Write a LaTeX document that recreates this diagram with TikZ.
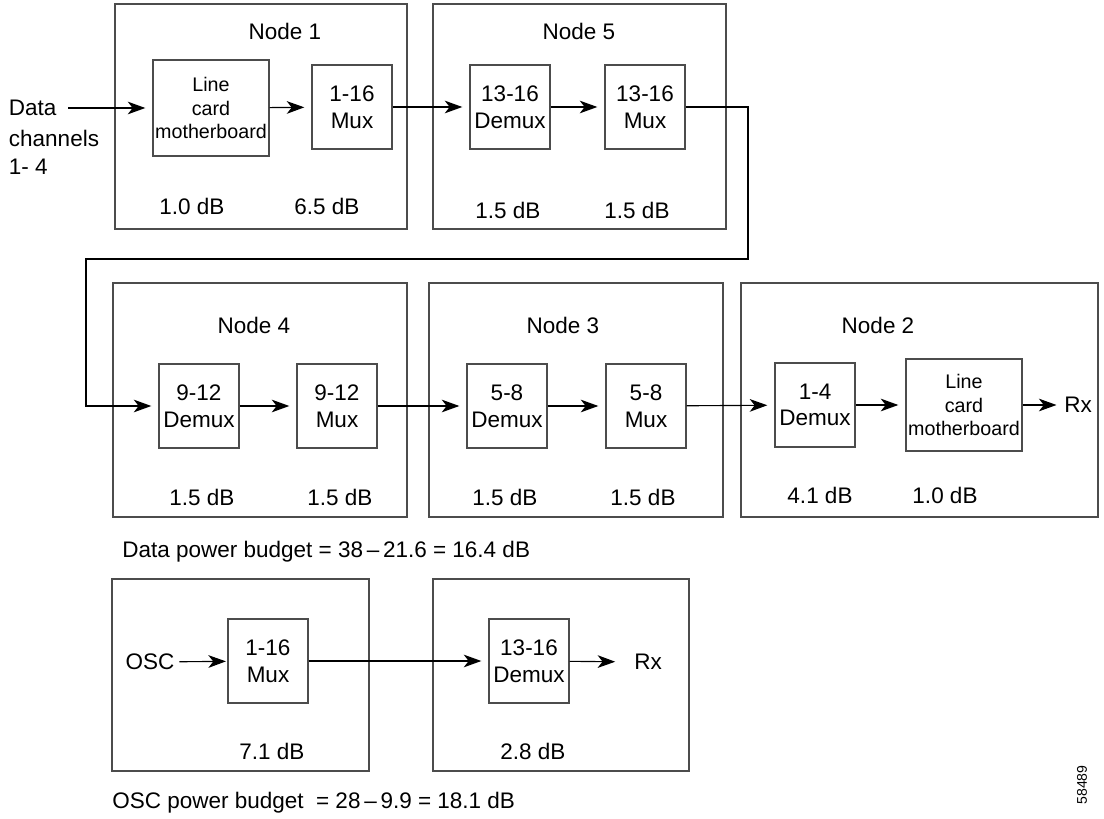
\documentclass[tikz,border=0pt]{standalone}
\usepackage{fontspec}
\setmainfont{Liberation Sans}
\usetikzlibrary{arrows.meta}

\tikzset{
  frame/.style={draw=black!70, line width=0.9pt},
  unit/.style={draw=black!70, line width=0.9pt, inner sep=0pt, minimum width=2cm, minimum height=2.1cm, align=center},
  cardbox/.style={unit, minimum width=2.9cm, minimum height=2.4cm, font=\fontsize{14}{17}\selectfont},
  link/.style={draw, line width=0.8pt, shorten >=5pt, -{Stealth[length=12.5pt,width=9pt,inset=3.5pt]}},
  loss/.style={inner sep=0pt},
}

\begin{document}
\begin{tikzpicture}[x=0.025cm,y=-0.025cm,font=\fontsize{16}{19}\selectfont]
  \useasboundingbox (0,0) rectangle (1104,819);

  \draw[frame] (115,4) rectangle (407,229);
  \draw[frame] (433,4) rectangle (726,229);
  \draw[frame] (113,283) rectangle (407,517);
  \draw[frame] (429,283) rectangle (723,517);
  \draw[frame] (741,283) rectangle (1098,517);
  \draw[frame] (112,579) rectangle (369,771);
  \draw[frame] (433,579) rectangle (689,771);

  \node (title1) at (285,31) {Node 1};
  \node (title5) at (579,31) {Node 5};
  \node (title4) at (254,325) {Node 4};
  \node (title3) at (563,325) {Node 3};
  \node (title2) at (878,325) {Node 2};

  \node[anchor=west] (data) at (4,108) {Data};
  \node[anchor=base west] (chan) at (4,147) {channels};
  \node[anchor=base west] (chnum) at (4,175) {1- 4};

  \node[cardbox] (lc1) at (211,108) {Line\\card\\motherboard};
  \node[unit] (mux1) at (352,107) {1-16\\Mux};
  \node[unit] (demux5) at (510,107) {13-16\\Demux};
  \node[unit] (mux5) at (645,107) {13-16\\Mux};

  \node[unit] (demux4) at (199,406) {9-12\\Demux};
  \node[unit] (mux4) at (337,406) {9-12\\Mux};
  \node[unit] (demux3) at (507,406) {5-8\\Demux};
  \node[unit] (mux3) at (646,406) {5-8\\Mux};
  \node[unit] (demux2) at (815,405) {1-4\\Demux};
  \node[cardbox, minimum height=2.3cm] (lc2) at (964,405) {Line\\card\\motherboard};
  \node (rx2) at (1078,405) {Rx};

  \node (osc) at (150,662) {OSC};
  \node[unit] (mux6) at (268,661) {1-16\\Mux};
  \node[unit] (demux7) at (529,661) {13-16\\Demux};
  \node (rx7) at (648,662) {Rx};

  \coordinate (bendA) at (748,259);
  \coordinate (bendB) at (86,259);

  \draw[link, shorten <=5pt] (data) -- (lc1);
  \draw[link] (lc1) -- (mux1);
  \draw[link] (mux1) -- (demux5);
  \draw[link] (demux5) -- (mux5);
  \draw[link] (mux5) -| (bendA) -- (bendB) |- (demux4);
  \draw[link] (demux4) -- (mux4);
  \draw[link] (mux4) -- (demux3);
  \draw[link] (demux3) -- (mux3);
  \draw[link] (mux3) -- (demux2);
  \draw[link] (demux2) -- (lc2);
  \draw[link, shorten >=2pt] (lc2) -- (rx2);
  \draw[link, shorten >=1pt] (osc) -- (mux6);
  \draw[link] (mux6) -- (demux7);
  \draw[link, shorten >=10pt] (demux7) -- (rx7);

  \node[loss] (loss1a) at (192,206) {1.0 dB};
  \node[loss] (loss1b) at (327,206) {6.5 dB};
  \node[loss] (loss5a) at (508,210) {1.5 dB};
  \node[loss] (loss5b) at (637,210) {1.5 dB};
  \node[loss] (loss4a) at (202,497) {1.5 dB};
  \node[loss] (loss4b) at (340,497) {1.5 dB};
  \node[loss] (loss3a) at (505,497) {1.5 dB};
  \node[loss] (loss3b) at (643,497) {1.5 dB};
  \node[loss] (loss2a) at (820,495) {4.1 dB};
  \node[loss] (loss2b) at (945,495) {1.0 dB};
  \node[loss] (loss6) at (272,751) {7.1 dB};
  \node[loss] (loss7) at (533,751) {2.8 dB};

  \node[anchor=west, inner sep=0pt] (databudget) at (122,552) {Data power budget = 38\,–\,21.6 = 16.4 dB};
  \node[anchor=west, inner sep=0pt] (oscbudget) at (112,803) {OSC power budget \ = 28\,–\,9.9 = 18.1 dB};

  \node[rotate=90, font=\fontsize{10}{12}\selectfont] (figno) at (1082,785) {58489};
\end{tikzpicture}
\end{document}
